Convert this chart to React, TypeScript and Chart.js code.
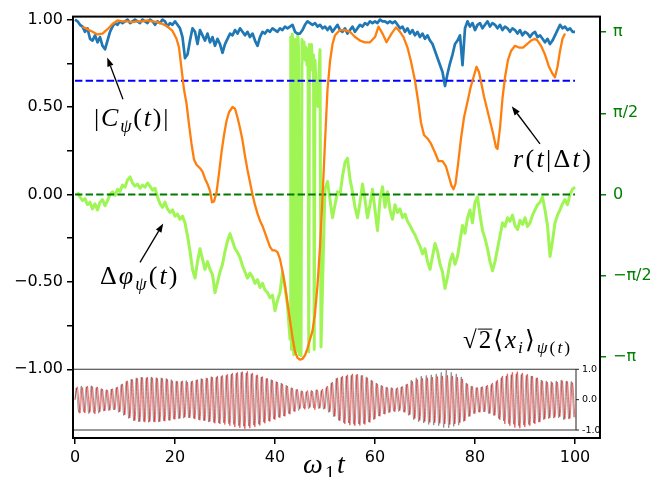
import React, { useEffect, useRef } from 'react';
import { Chart, registerables } from 'chart.js';

Chart.register(...registerables);

const PI = Math.PI;

// ---- axis ticks ----
const X_TICKS = [0, 20, 40, 60, 80, 100];
const Y_TICKS = [-1, -0.75, -0.5, -0.25, 0, 0.25, 0.5, 0.75, 1];
const PHASE_TICKS = [-PI, -PI / 2, 0, PI / 2, PI];
const PHASE_LABELS = ['−π', '−π/2', '0', 'π/2', 'π'];
const INSET_TICKS = [1, 0, -1];
const INSET_LABELS = ['1.0', '0.0', '-1.0'];

// ---- |C_psi(t)| sampled every 0.5 from t = 0 ----
const coherenceStart = 0;
const coherenceStep = 0.5;
const coherence = [
  1.00, 0.99, 0.97, 0.96, 0.93, 0.95, 0.89, 0.88, 0.91, 0.87,
  0.90, 0.85, 0.83, 0.88, 0.93, 0.96, 0.98, 0.97, 0.99, 0.98,
  0.99, 1.00, 0.98, 0.99, 1.00, 0.99, 0.98, 1.00, 0.99, 0.98,
  1.00, 0.99, 0.97, 0.99, 0.98, 1.00, 0.99, 0.96, 0.98, 0.97,
  0.99, 0.97, 0.95, 0.90, 0.78, 0.80, 0.88, 0.95, 0.93, 0.86,
  0.94, 0.91, 0.88, 0.92, 0.87, 0.90, 0.85, 0.89, 0.86, 0.81,
  0.86, 0.89, 0.92, 0.91, 0.94, 0.92, 0.95, 0.93, 0.91, 0.93,
  0.90, 0.92, 0.88, 0.85, 0.90, 0.93, 0.92, 0.94, 0.93, 0.95,
  0.94, 0.93, 0.95, 0.94, 0.96, 0.95, 0.96, 0.97, 0.93, 0.92,
  0.92, 0.94, 0.97, 0.99, 0.98, 0.97, 0.98, 0.96, 0.97, 0.95,
  0.96, 0.94, 0.96, 0.93, 0.95, 0.97, 0.94, 0.93, 0.95, 0.92,
  0.94, 0.96, 0.93, 0.95, 0.97, 0.96, 0.98, 0.97, 0.99, 0.98,
  0.99, 0.98, 1.00, 0.99, 0.99, 0.98, 0.99, 0.98, 0.99, 0.97,
  0.95, 0.96, 0.93, 0.95, 0.92, 0.94, 0.91, 0.93, 0.90, 0.92,
  0.89, 0.91, 0.88, 0.86, 0.82, 0.78, 0.74, 0.70, 0.62, 0.69,
  0.75, 0.80, 0.86, 0.88, 0.91, 0.74, 0.95, 0.99, 0.96, 0.98,
  0.94, 0.97, 0.98, 0.95, 0.97, 0.99, 0.96, 0.98, 0.97, 0.95,
  0.97, 0.94, 0.96, 0.95, 0.93, 0.95, 0.94, 0.92, 0.94, 0.91,
  0.93, 0.92, 0.90, 0.92, 0.93, 0.90, 0.91, 0.89, 0.87, 0.89,
  0.86, 0.88, 0.91, 0.94, 0.97, 0.95, 0.96, 0.94, 0.95, 0.93,
  0.93,
];

// ---- r(t|Δt) ----
const rateT = [
  1.5, 2.5, 3.5, 4.5, 5.5, 6.5, 7.5, 8.5, 9.5, 10.5,
  11.5, 12.5, 13.5, 14.5, 15.5, 16.5, 17.5, 18.5, 19.5, 20.3,
  20.8, 21.3, 21.8, 22.3, 22.8, 23.3, 23.8, 24.3, 25, 25.5,
  26, 26.5, 27, 27.4, 27.8, 28.3, 28.8, 29.3, 29.8, 30.3,
  30.8, 31.5, 32, 32.5, 33, 33.5, 34, 34.5, 35, 35.5,
  36, 36.5, 37, 37.5, 38, 38.5, 39, 39.5, 40, 40.5,
  41, 41.5, 42, 42.5, 43, 43.5, 44, 44.5, 45, 45.5,
  46, 46.5, 47, 47.5, 48, 48.5, 49, 49.5, 50, 50.5,
  51, 51.5, 52, 53, 54, 55, 56, 57, 58, 59,
  60, 60.7, 61.5, 62.3, 63.3, 64.2, 65, 65.7, 66.5, 67.2,
  68, 68.7, 69.2, 69.8, 70.5, 71.2, 72, 72.7, 73.5, 74.2,
  74.8, 75.3, 75.7, 76.1, 76.6, 77.2, 77.8, 78.5, 79.1, 79.7,
  80.3, 80.8, 81.3, 81.8, 82.4, 83, 83.6, 84.2, 84.5, 85,
  85.5, 86, 86.6, 87.2, 88, 88.8, 89.6, 90.4, 91.2, 92,
  92.5, 93.2, 94, 94.8, 95.5, 96, 96.5, 97, 97.5, 98,
];
const rate = [
  0.96, 0.945, 0.93, 0.915, 0.92, 0.945, 0.975, 0.995, 0.99, 0.99,
  0.985, 0.99, 0.99, 0.995, 0.99, 0.985, 0.975, 0.96, 0.935, 0.89,
  0.84, 0.72, 0.60, 0.52, 0.40, 0.29, 0.20, 0.17, 0.15, 0.13,
  0.09, 0.06, 0.02, -0.045, -0.04, 0.01, 0.12, 0.24, 0.34, 0.42,
  0.47, 0.50, 0.49, 0.44, 0.38, 0.31, 0.22, 0.14, 0.07, 0.0,
  -0.06, -0.11, -0.15, -0.18, -0.22, -0.26, -0.30, -0.32, -0.32, -0.33,
  -0.37, -0.44, -0.52, -0.62, -0.72, -0.82, -0.90, -0.935, -0.945, -0.94,
  -0.92, -0.88, -0.83, -0.78, -0.68, -0.52, -0.30, -0.02, 0.30, 0.60,
  0.76, 0.86, 0.91, 0.94, 0.94, 0.93, 0.90, 0.88, 0.87, 0.87,
  0.90, 0.96, 0.92, 0.87, 0.92, 0.955, 0.93, 0.90, 0.84, 0.76,
  0.65, 0.52, 0.41, 0.34, 0.32, 0.29, 0.24, 0.19, 0.19, 0.16,
  0.10, 0.05, 0.03, 0.06, 0.17, 0.32, 0.44, 0.53, 0.61, 0.67,
  0.73, 0.70, 0.63, 0.56, 0.49, 0.42, 0.35, 0.27, 0.26, 0.38,
  0.55, 0.67, 0.77, 0.82, 0.85, 0.84, 0.84, 0.86, 0.88, 0.89,
  0.88, 0.85, 0.80, 0.73, 0.69, 0.67, 0.73, 0.82, 0.89, 0.92,
];

// ---- Δφ_psi(t) in radians ----
const phaseStep = 0.5;
const phaseEarlyStart = 0.5;
const phaseEarly = [
  0.04, -0.05, -0.12, -0.08, -0.20, -0.15, -0.28, -0.18, -0.30, -0.15,
  -0.10, -0.22, -0.12, 0.0, 0.05, -0.02, 0.10, 0.06, 0.18, 0.14,
  0.28, 0.34, 0.22, 0.16, 0.20, 0.12, 0.18, 0.14, 0.22, 0.16,
  0.08, 0.12, -0.05, -0.18, -0.25, -0.15, -0.28, -0.35, -0.30, -0.42,
  -0.38, -0.48, -0.42, -0.55, -0.80, -1.10, -1.45, -1.62, -1.30, -1.05,
  -1.25, -1.45, -1.30, -1.45, -1.55, -1.90, -1.70, -1.50, -1.35, -1.10,
  -0.90, -0.76, -0.90, -1.05, -1.12, -1.22, -1.38, -1.50, -1.62, -1.52,
  -1.60, -1.72, -1.65, -1.80, -1.72, -1.85, -1.90, -2.00, -1.95, -2.25,
  -2.05, -1.90, -1.50, -1.80, -2.15, -2.80,
];
const phaseWrapT = [
  43.15, 43.3, 43.45, 43.6, 43.75, 43.9, 44.05, 44.2, 44.4, 44.55,
  44.7, 44.85, 45.0, 45.2, 45.4, 45.6, 45.8, 46.0, 46.2, 46.4,
  46.6, 46.75, 46.9, 47.1, 47.3, 47.5, 47.7, 47.85, 48.0, 48.2,
  48.4, 48.6, 48.8, 49.0, 49.2, 49.5, 49.8,
];
const phaseWrap = [
  3.05, -3.0, 3.10, 2.90, -3.1, -2.95, 3.0, -3.05, -2.9, 3.1,
  2.85, -3.1, -2.95, -3.12, 3.0, 2.75, 2.95, 2.6, 2.85, 2.5,
  2.8, -3.05, 2.9, 2.7, 2.9, 2.4, 2.7, -3.0, 2.6, 2.1,
  1.85, 1.7, 2.3, 2.8, -2.95, -1.8, -0.6,
];
const phaseLateStart = 50;
const phaseLate = [
  0.10, 0.25, -0.10, -0.45, -0.20, 0.05, 0.0, 0.35, 0.62, 0.70,
  0.30, 0.05, -0.25, -0.45, -0.15, 0.20, -0.10, -0.45, -0.20, 0.10,
  -0.30, -0.70, -0.10, 0.15, -0.25, 0.05, -0.30, -0.48, -0.20, -0.35,
  -0.28, -0.45, -0.38, -0.52, -0.60, -0.70, -0.78, -0.90, -1.00, -1.15,
  -1.05, -1.30, -1.45, -1.20, -0.95, -1.10, -1.35, -1.50, -1.82, -1.60,
  -1.30, -1.15, -1.35, -1.20, -0.90, -0.60, -0.75, -0.45, -0.30, -0.55,
  -0.15, -0.05, -0.40, -0.70, -0.85, -1.05, -1.30, -1.48, -1.30, -1.05,
  -0.80, -0.55, -0.62, -0.45, -0.52, -0.40, -0.60, -0.68, -0.50, -0.58,
  -0.45, -0.62, -0.55, -0.40, -0.30, -0.20, -0.15, -0.05, -0.30, -0.60,
  -1.20, -0.90, -0.55, -0.40, -0.30, -0.18, -0.10, -0.20, 0.0, 0.10,
  0.14,
];

// ---- reference levels ----
const levelT = [0, 100];
const coherenceLevel = 0.65;
const phaseLevel = 0;

// ---- inset: sqrt(2)<x_i>, successive extrema (peak, trough) every half period ----
const insetHalfPeriod = 0.5;
const insetRedLag = 0.22;
const xBlack = [
  0.38, -0.42, 0.45, -0.40, 0.42, -0.46, 0.46, -0.43, 0.40, -0.45,
  0.37, -0.38, 0.33, -0.36, 0.35, -0.34, 0.40, -0.42, 0.50, -0.52,
  0.60, -0.62, 0.68, -0.70, 0.72, -0.73, 0.74, -0.72, 0.72, -0.75,
  0.75, -0.73, 0.73, -0.74, 0.72, -0.70, 0.70, -0.68, 0.66, -0.64,
  0.62, -0.63, 0.60, -0.61, 0.63, -0.60, 0.60, -0.62, 0.65, -0.66,
  0.70, -0.69, 0.72, -0.74, 0.76, -0.75, 0.74, -0.77, 0.77, -0.76,
  0.80, -0.79, 0.84, -0.82, 0.87, -0.86, 0.90, -0.88, 0.88, -0.87,
  0.85, -0.84, 0.80, -0.81, 0.75, -0.74, 0.70, -0.70, 0.66, -0.64,
  0.60, -0.58, 0.55, -0.54, 0.48, -0.46, 0.40, -0.38, 0.34, -0.36,
  0.30, -0.28, 0.26, -0.30, 0.31, -0.27, 0.33, -0.30, 0.30, -0.32,
  0.40, -0.42, 0.55, -0.56, 0.70, -0.68, 0.74, -0.76, 0.78, -0.77,
  0.80, -0.81, 0.82, -0.80, 0.80, -0.79, 0.75, -0.74, 0.65, -0.66,
  0.55, -0.54, 0.48, -0.47, 0.42, -0.43, 0.40, -0.38, 0.37, -0.39,
  0.42, -0.41, 0.50, -0.52, 0.65, -0.66, 0.72, -0.73, 0.78, -0.77,
  0.80, -0.82, 0.82, -0.84, 0.85, -0.86, 0.90, -0.92, 0.97, -0.93,
  0.90, -0.88, 0.85, -0.84, 0.75, -0.72, 0.55, -0.56, 0.45, -0.46,
  0.40, -0.41, 0.42, -0.40, 0.45, -0.46, 0.50, -0.52, 0.60, -0.62,
  0.72, -0.70, 0.78, -0.79, 0.82, -0.81, 0.85, -0.86, 0.83, -0.84,
  0.80, -0.82, 0.78, -0.77, 0.72, -0.74, 0.65, -0.66, 0.62, -0.63,
  0.60, -0.61, 0.62, -0.60, 0.65, -0.66, 0.62, -0.64, 0.60, -0.58,
];
const xRed = [
  0.42, -0.45, 0.40, -0.44, 0.45, -0.42, 0.43, -0.47, 0.42, -0.40,
  0.35, -0.37, 0.32, -0.35, 0.36, -0.33, 0.42, -0.40, 0.52, -0.50,
  0.62, -0.60, 0.66, -0.69, 0.70, -0.72, 0.73, -0.74, 0.74, -0.72,
  0.72, -0.74, 0.70, -0.72, 0.70, -0.71, 0.67, -0.69, 0.62, -0.65,
  0.60, -0.62, 0.62, -0.58, 0.58, -0.60, 0.62, -0.64, 0.66, -0.68,
  0.68, -0.70, 0.70, -0.72, 0.74, -0.78, 0.78, -0.80, 0.80, -0.82,
  0.84, -0.86, 0.88, -0.90, 0.90, -0.93, 0.92, -0.96, 0.93, -0.94,
  0.88, -0.90, 0.82, -0.85, 0.76, -0.78, 0.70, -0.72, 0.64, -0.66,
  0.58, -0.60, 0.52, -0.55, 0.45, -0.48, 0.38, -0.40, 0.34, -0.30,
  0.28, -0.32, 0.30, -0.26, 0.28, -0.33, 0.32, -0.28, 0.35, -0.30,
  0.45, -0.40, 0.58, -0.55, 0.72, -0.70, 0.78, -0.80, 0.82, -0.84,
  0.85, -0.86, 0.84, -0.85, 0.80, -0.82, 0.72, -0.75, 0.62, -0.64,
  0.52, -0.55, 0.45, -0.48, 0.40, -0.42, 0.38, -0.40, 0.40, -0.36,
  0.44, -0.42, 0.52, -0.50, 0.60, -0.62, 0.66, -0.68, 0.70, -0.72,
  0.72, -0.75, 0.74, -0.76, 0.76, -0.78, 0.78, -0.80, 0.80, -0.82,
  0.78, -0.80, 0.74, -0.76, 0.68, -0.70, 0.52, -0.55, 0.44, -0.46,
  0.40, -0.42, 0.43, -0.40, 0.48, -0.46, 0.55, -0.52, 0.65, -0.66,
  0.78, -0.80, 0.85, -0.86, 0.90, -0.92, 0.92, -0.94, 0.88, -0.90,
  0.84, -0.86, 0.78, -0.80, 0.72, -0.74, 0.62, -0.64, 0.58, -0.60,
  0.56, -0.58, 0.58, -0.56, 0.62, -0.64, 0.60, -0.62, 0.56, -0.58,
];

// ---- annotation anchors (data coordinates) ----
const ANNOT = {
  coherence: { text: [3.8, 0.39], tail: [9.6, 0.544], tip: [6.45, 0.783] },
  rate: { text: [87.6, 0.158], tail: [93, 0.289], tip: [87.35, 0.504] },
  phase: { text: [5.0, -0.512], tail: [13, -0.389], tip: [17.65, -0.166] },
  inset: { text: [77.6, -0.876] },
  xlabel: { t: 45.6 },
};

const SERIF = '"Liberation Serif", "DejaVu Serif", serif';
const SANS = '"DejaVu Sans", sans-serif';

type Seg = { s: string; it?: boolean; sub?: boolean; over?: boolean };

const LBL_C: Seg[] = [
  { s: '|' }, { s: 'C', it: true }, { s: 'ψ', it: true, sub: true },
  { s: '(' }, { s: 't', it: true }, { s: ')' }, { s: '|' },
];
const LBL_R: Seg[] = [
  { s: 'r', it: true }, { s: '(' }, { s: 't', it: true }, { s: '|' },
  { s: 'Δ' }, { s: 't', it: true }, { s: ')' },
];
const LBL_PHI: Seg[] = [
  { s: 'Δ' }, { s: 'φ', it: true }, { s: 'ψ', it: true, sub: true },
  { s: '(' }, { s: 't', it: true }, { s: ')' },
];
const LBL_X: Seg[] = [
  { s: '√' }, { s: '2', over: true }, { s: '⟨' }, { s: 'x', it: true },
  { s: 'i', it: true, sub: true }, { s: '⟩' }, { s: 'ψ', it: true, sub: true },
  { s: '(', sub: true }, { s: 't', it: true, sub: true }, { s: ')', sub: true },
];
const LBL_AXIS: Seg[] = [{ s: 'ω', it: true }, { s: '1', sub: true }, { s: 't', it: true }];

function drawMath(ctx: CanvasRenderingContext2D, segs: Seg[], x: number, y: number, size: number, gap: number) {
  let cx = x;
  ctx.textAlign = 'left';
  ctx.textBaseline = 'alphabetic';
  ctx.fillStyle = '#000';
  for (const g of segs) {
    const fs = g.sub ? size * 0.7 : size;
    ctx.font = `${g.it ? 'italic ' : ''}${fs}px ${SERIF}`;
    const dy = g.sub ? size * 0.22 : 0;
    ctx.fillText(g.s, cx, y + dy);
    const w = ctx.measureText(g.s).width;
    if (g.over) {
      ctx.beginPath();
      ctx.lineWidth = 1;
      ctx.strokeStyle = '#000';
      const oy = y - size * 0.74;
      ctx.moveTo(cx - 1, oy);
      ctx.lineTo(cx + w + 1, oy);
      ctx.stroke();
    }
    cx += w + size * gap;
  }
}

function drawArrow(ctx: CanvasRenderingContext2D, x1: number, y1: number, x2: number, y2: number) {
  const ang = Math.atan2(y2 - y1, x2 - x1);
  const L = 9;
  const W = 3.2;
  const bx = x2 - L * Math.cos(ang);
  const by = y2 - L * Math.sin(ang);
  ctx.strokeStyle = '#000';
  ctx.fillStyle = '#000';
  ctx.lineWidth = 1.3;
  ctx.beginPath();
  ctx.moveTo(x1, y1);
  ctx.lineTo(bx, by);
  ctx.stroke();
  ctx.beginPath();
  ctx.moveTo(x2, y2);
  ctx.lineTo(bx - W * Math.sin(ang), by + W * Math.cos(ang));
  ctx.lineTo(bx + W * Math.sin(ang), by - W * Math.cos(ang));
  ctx.closePath();
  ctx.fill();
}

const overlayPlugin = {
  id: 'overlay',
  afterDatasetsDraw(chart: any) {
    const { ctx, chartArea: a, scales } = chart;
    const xs = scales.x;
    const ys = scales.y;
    const yi = scales.yi;
    const px = (t: number) => xs.getPixelForValue(t);
    const py = (v: number) => ys.getPixelForValue(v);
    ctx.save();

    // inset frame
    const iL = a.left;
    const iR = px(100) + 1;
    const iTop = yi.getPixelForValue(1);
    const iBot = yi.getPixelForValue(-1);
    ctx.lineWidth = 1.2;
    ctx.strokeStyle = '#333';
    ctx.beginPath(); ctx.moveTo(iL, iTop); ctx.lineTo(iR, iTop); ctx.stroke();
    ctx.lineWidth = 2;
    ctx.strokeStyle = '#9a9a9a';
    ctx.beginPath(); ctx.moveTo(iL, iBot); ctx.lineTo(iR, iBot); ctx.stroke();
    ctx.lineWidth = 1;
    ctx.strokeStyle = '#222';
    ctx.beginPath(); ctx.moveTo(iR, iTop); ctx.lineTo(iR, iBot); ctx.stroke();
    ctx.font = `9.5px ${SANS}`;
    ctx.fillStyle = '#000';
    ctx.textBaseline = 'middle';
    ctx.textAlign = 'left';
    INSET_TICKS.forEach((v, i) => {
      const y = yi.getPixelForValue(v);
      ctx.beginPath(); ctx.moveTo(iR, y); ctx.lineTo(iR + 3, y); ctx.stroke();
      ctx.fillText(INSET_LABELS[i], iR + 6, y);
    });

    // main frame
    ctx.lineWidth = 2;
    ctx.strokeStyle = '#000';
    ctx.strokeRect(a.left, a.top, a.right - a.left, a.bottom - a.top);

    // annotations
    const A = ANNOT;
    drawArrow(ctx, px(A.coherence.tail[0]), py(A.coherence.tail[1]), px(A.coherence.tip[0]), py(A.coherence.tip[1]));
    drawArrow(ctx, px(A.rate.tail[0]), py(A.rate.tail[1]), px(A.rate.tip[0]), py(A.rate.tip[1]));
    drawArrow(ctx, px(A.phase.tail[0]), py(A.phase.tail[1]), px(A.phase.tip[0]), py(A.phase.tip[1]));
    drawMath(ctx, LBL_C, px(A.coherence.text[0]), py(A.coherence.text[1]), 26, 0.07);
    drawMath(ctx, LBL_R, px(A.rate.text[0]), py(A.rate.text[1]), 26, 0.09);
    drawMath(ctx, LBL_PHI, px(A.phase.text[0]), py(A.phase.text[1]), 26, 0.08);
    drawMath(ctx, LBL_X, px(A.inset.text[0]), py(A.inset.text[1]), 25, 0.08);
    drawMath(ctx, LBL_AXIS, px(A.xlabel.t), a.bottom + 35, 28, 0.08);

    ctx.restore();
  },
};

export default function App() {
  const ref = useRef<HTMLCanvasElement | null>(null);

  useEffect(() => {
    if (!ref.current) return;

    const coherencePts = coherence.map((v, i) => ({ x: coherenceStart + i * coherenceStep, y: v }));
    const ratePts = rateT.map((t, i) => ({ x: t, y: rate[i] }));
    const phasePts = [
      ...phaseEarly.map((v, i) => ({ x: phaseEarlyStart + i * phaseStep, y: v })),
      ...phaseWrapT.map((t, i) => ({ x: t, y: phaseWrap[i] })),
      ...phaseLate.map((v, i) => ({ x: phaseLateStart + i * phaseStep, y: v })),
    ];
    const blackPts = [{ x: 0, y: 0 }, ...xBlack.map((v, i) => ({ x: (i + 0.5) * insetHalfPeriod, y: v }))];
    const redPts = [{ x: 0, y: 0 }, ...xRed.map((v, i) => ({ x: (i + 0.5) * insetHalfPeriod + insetRedLag, y: v }))];
    const cohLevelPts = levelT.map((t) => ({ x: t, y: coherenceLevel }));
    const phaseLevelPts = levelT.map((t) => ({ x: t, y: phaseLevel }));

    const common = { pointRadius: 0, fill: false, borderJoinStyle: 'round' as const };

    const chart = new Chart(ref.current, {
      type: 'line',
      data: {
        datasets: [
          { ...common, data: ratePts, borderColor: '#ff7f0e', borderWidth: 2.3, yAxisID: 'y', xAxisID: 'x' },
          { ...common, data: cohLevelPts, borderColor: '#0000ff', borderWidth: 2, borderDash: [7.4, 3.2], yAxisID: 'y', xAxisID: 'x' },
          { ...common, data: phaseLevelPts, borderColor: '#007a00', borderWidth: 2, borderDash: [7.4, 3.2], yAxisID: 'y', xAxisID: 'x' },
          { ...common, data: coherencePts, borderColor: '#1f77b4', borderWidth: 2.7, yAxisID: 'y', xAxisID: 'x' },
          { ...common, data: phasePts, borderColor: '#9ef553', borderWidth: 3, yAxisID: 'y2', xAxisID: 'x' },
          { ...common, data: blackPts, borderColor: 'rgba(0,0,0,0.42)', borderWidth: 0.85, tension: 0.35, yAxisID: 'yi', xAxisID: 'x' },
          { ...common, data: redPts, borderColor: 'rgba(255,0,0,0.72)', borderWidth: 0.85, tension: 0.35, yAxisID: 'yi', xAxisID: 'x' },
        ] as any,
      },
      options: {
        animation: false,
        responsive: true,
        maintainAspectRatio: false,
        parsing: false,
        events: [],
        layout: { padding: { top: 15, left: 0, right: 0, bottom: 0 } },
        plugins: { legend: { display: false }, tooltip: { enabled: false } },
        scales: {
          x: {
            type: 'linear',
            min: -0.4,
            max: 105,
            afterBuildTicks: (ax: any) => { ax.ticks = X_TICKS.map((v) => ({ value: v })); },
            afterFit: (ax: any) => { ax.height = 39; },
            border: { display: false },
            grid: { drawOnChartArea: false, drawTicks: true, tickLength: 6, color: '#000', lineWidth: 1.5 },
            ticks: { autoSkip: false, maxRotation: 0, padding: 4, color: '#000', font: { family: 'DejaVu Sans', size: 16 } },
          },
          y: {
            type: 'linear',
            position: 'left',
            min: -1.393,
            max: 1.017,
            afterBuildTicks: (ax: any) => { ax.ticks = Y_TICKS.map((v) => ({ value: v })); },
            afterFit: (ax: any) => { ax.width = 73; },
            border: { display: false },
            grid: { drawOnChartArea: false, drawTicks: true, tickLength: 6, color: '#000', lineWidth: 1.5 },
            ticks: {
              autoSkip: false,
              padding: 4,
              color: '#000',
              font: { family: 'DejaVu Sans', size: 16 },
              callback: (v: any) => {
                const n = Number(v);
                if (Math.abs(n * 2 - Math.round(n * 2)) > 1e-9) return '';
                return n.toFixed(2).replace('-', '−');
              },
            },
          },
          y2: {
            type: 'linear',
            position: 'right',
            min: -4.713,
            max: 3.441,
            afterBuildTicks: (ax: any) => { ax.ticks = PHASE_TICKS.map((v) => ({ value: v })); },
            afterFit: (ax: any) => { ax.width = 62; },
            border: { display: false },
            grid: { drawOnChartArea: false, drawTicks: true, tickLength: 6, color: '#008000', lineWidth: 1.5 },
            ticks: {
              autoSkip: false,
              padding: 7,
              color: '#008000',
              font: { family: 'DejaVu Sans', size: 16 },
              callback: (_v: any, i: number) => PHASE_LABELS[i],
            },
          },
          yi: {
            type: 'linear',
            display: false,
            min: -1.262,
            max: 12.607,
          },
        },
      } as any,
      plugins: [overlayPlugin],
    });

    return () => chart.destroy();
  }, []);

  return (
    <div style={{ position: 'absolute', left: 0, top: 0, width: 662, height: 477, background: '#fff' }}>
      <canvas ref={ref} />
    </div>
  );
}
